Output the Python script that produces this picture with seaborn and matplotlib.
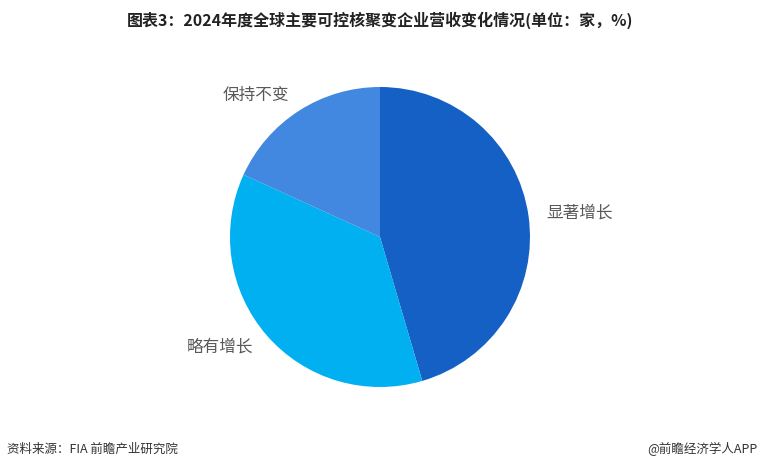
import matplotlib
matplotlib.use("Agg")
import matplotlib.pyplot as plt
import seaborn as sns

# --- data ---
categories = ["显著增长", "略有增长", "保持不变"]
shares = [45.5, 36.4, 18.2]
colors = ["#1560C4", "#00B0F0", "#4287E0"]

title = "图表3：2024年度全球主要可控核聚变企业营收变化情况(单位：家，%)"
source = "资料来源：FIA 前瞻产业研究院"
credit = "@前瞻经济学人APP"

sns.set_style("white")
plt.rcParams["font.family"] = ["Noto Sans CJK SC", "DejaVu Sans"]

fig = plt.figure(figsize=(7.6, 4.71), dpi=100)
ax = fig.add_axes([230 / 760, 84 / 471, 300 / 760, 300 / 471])

wedges, texts = ax.pie(
    shares, labels=categories, colors=colors,
    startangle=90, counterclock=False, radius=1.0,
    labeldistance=1.12,
    wedgeprops={"linewidth": 0, "edgecolor": "none"},
    textprops={"fontsize": 12, "color": "#595959"},
)
ax.set_xlim(-1, 1)
ax.set_ylim(-1, 1)
ax.set_aspect("equal")
ax.axis("off")

fig.text(0.5, 1 - 20 / 471, title, ha="center", va="center",
         fontsize=11.5, fontweight="bold", color="#222222")
fig.text(7 / 760, 1 - 449 / 471, source, ha="left", va="center",
         fontsize=9, color="#333333")
fig.text(757 / 760, 1 - 449 / 471, credit, ha="right", va="center",
         fontsize=9, color="#333333")

fig.savefig("out.png", dpi=100)
